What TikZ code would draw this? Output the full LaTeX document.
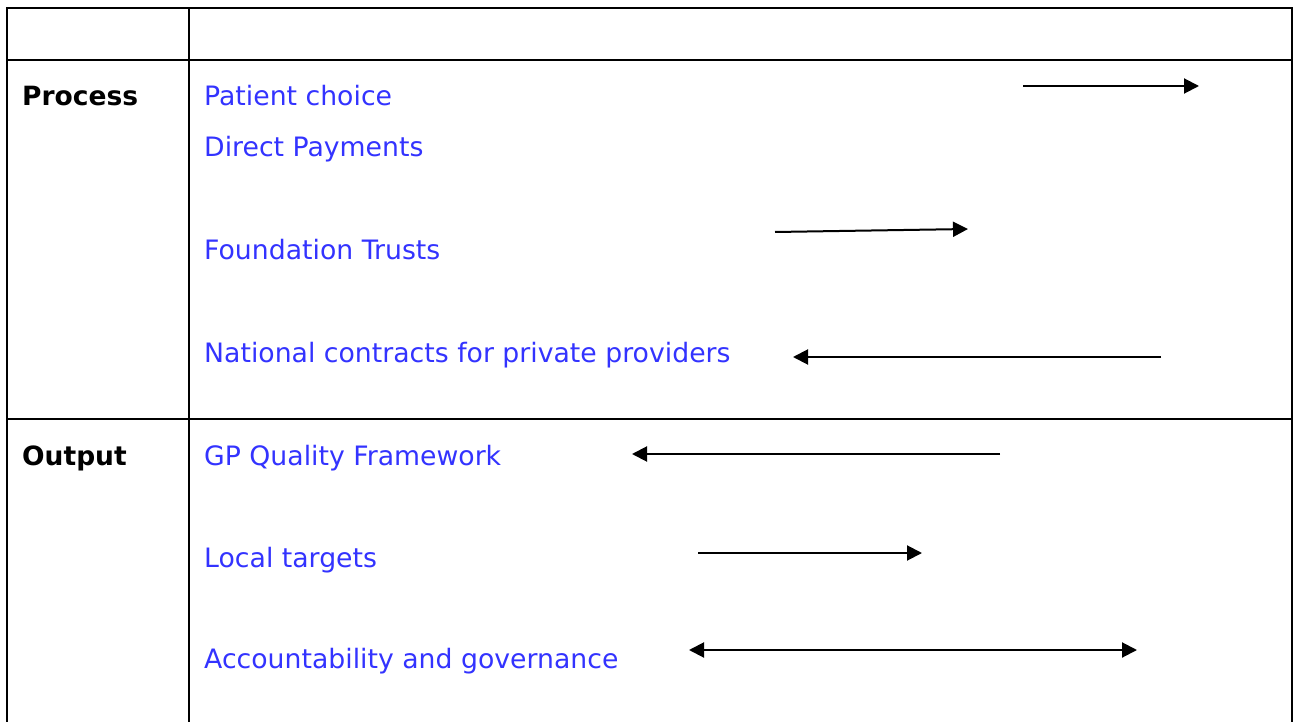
\documentclass[tikz,border=0pt]{standalone}
\usepackage{fontspec}
\setmainfont{DejaVu Sans}
\usetikzlibrary{arrows.meta}
\definecolor{itemblue}{RGB}{51,51,255}
\tikzset{
  rule/.style={line width=2.4pt, black},
  item/.style={anchor=base west, inner sep=0pt, text=itemblue, font=\fontsize{26.7}{32}\selectfont},
  rowhead/.style={anchor=base west, inner sep=0pt, font=\fontsize{26.5}{32}\selectfont\bfseries},
  conn/.style={line width=2pt, -{Triangle[length=15pt,width=15pt]}},
  conn2/.style={line width=2pt, {Triangle[length=15pt,width=15pt]}-{Triangle[length=15pt,width=15pt]}}
}
\begin{document}
\begin{tikzpicture}[x=1pt,y=-1pt]
\useasboundingbox (0,0) rectangle (1296,722);
% table rules
\draw[rule] (7,730) -- (7,8) -- (1292,8) -- (1292,730);
\draw[rule] (189,8) -- (189,730);
\draw[rule] (7,60) -- (1292,60);
\draw[rule] (7,419) -- (1292,419);
% row heads
\node[rowhead] (proc) at (22,106) {Process};
\node[rowhead] (outp) at (22,465) {Output};
% items
\node[item] (pc) at (204,106) {Patient choice};
\node[item] (dp) at (204,157) {Direct Payments};
\node[item] (ft) at (204,259) {Foundation Trusts};
\node[item] (nc) at (204,362) {National contracts for private providers};
\node[item] (gp) at (204,465) {GP Quality Framework};
\node[item] (lt) at (204,567) {Local targets};
\node[item] (ag) at (204,668) {Accountability and governance};
% arrow end points
\coordinate (a1s) at (1023,86);  \coordinate (a1e) at (1199,86);
\coordinate (a2s) at (775,232);  \coordinate (a2e) at (968,229);
\coordinate (a3s) at (1161,357); \coordinate (a3e) at (793,357);
\coordinate (a4s) at (1000,454); \coordinate (a4e) at (632,454);
\coordinate (a5s) at (698,553);  \coordinate (a5e) at (922,553);
\coordinate (a6s) at (689,650);  \coordinate (a6e) at (1137,650);
\draw[conn] (a1s) -- (a1e);
\draw[conn] (a2s) -- (a2e);
\draw[conn] (a3s) -- (a3e);
\draw[conn] (a4s) -- (a4e);
\draw[conn] (a5s) -- (a5e);
\draw[conn2] (a6s) -- (a6e);
\end{tikzpicture}
\end{document}
